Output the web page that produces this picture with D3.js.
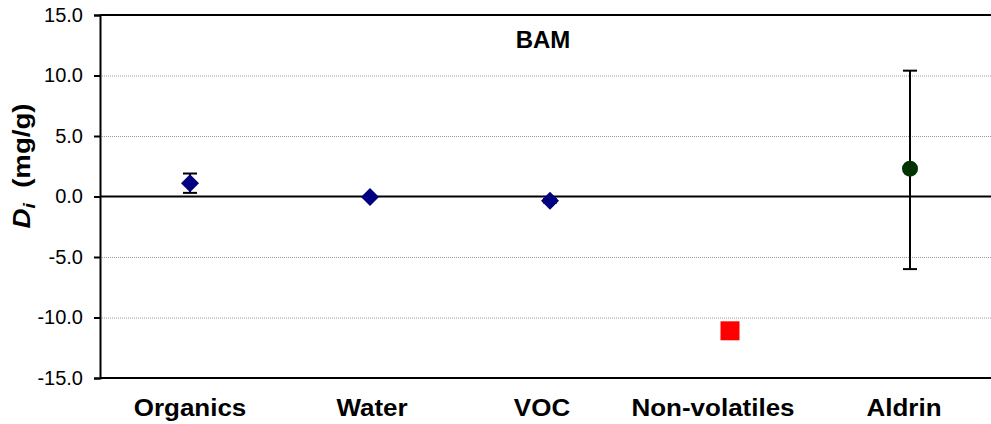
<!DOCTYPE html>
<html>
<head>
  <meta charset="utf-8">
  <script src="https://d3js.org/d3.v7.min.js"></script>
  <style>
    body { margin: 0; background: #fff; }
    text { font-family: "Liberation Sans", Arial, sans-serif; }
  </style>
</head>
<body>
<div id="chart"></div>
<script>
const width = 991;
const height = 424;

// data
const categories = ["Organics", "Water", "VOC", "Non-volatiles", "Aldrin"];
const values = [1.1, -0.05, -0.35, -11.1, 2.3];
const errLow = [0.3, null, -0.5, null, -6.0];
const errHigh = [1.9, null, -0.2, null, 10.4];
const markers = ["diamond", "diamond", "diamond", "square", "circle"];
const markerColors = ["#000080", "#000080", "#000080", "#ff0000", "#003300"];
const yTicks = [-15, -10, -5, 0, 5, 10, 15];

// the original's category labels sit a little off the markers
const labelShift = [0, 2, -8, -17, -6];

const margin = {top: 15, right: -9, bottom: 46, left: 100};

const svg = d3.select("#chart").append("svg")
  .attr("width", width)
  .attr("height", height);

const x = d3.scaleBand()
  .domain(categories)
  .range([margin.left, width - margin.right]);

const y = d3.scaleLinear()
  .domain([-15, 15])
  .range([height - margin.bottom, margin.top]);

// gridlines
svg.append("g")
  .selectAll("line")
  .data(yTicks.filter(d => d !== 0 && d !== -15 && d !== 15))
  .join("line")
  .attr("x1", margin.left).attr("x2", width)
  .attr("y1", d => y(d) + 0.5).attr("y2", d => y(d) + 0.5)
  .attr("stroke", "#999")
  .attr("stroke-dasharray", "1,1");

// frame top and bottom + zero line
[15, -15, 0].forEach(v => {
  svg.append("line")
    .attr("x1", margin.left).attr("x2", width)
    .attr("y1", y(v)).attr("y2", y(v))
    .attr("stroke", "#000").attr("stroke-width", 2);
});

// y axis
const yAxis = svg.append("g")
  .attr("transform", `translate(${margin.left},0)`)
  .call(d3.axisLeft(y).tickValues(yTicks).tickFormat(d => d.toFixed(1)).tickSize(6).tickPadding(11));
yAxis.select(".domain").attr("stroke-width", 2);
yAxis.selectAll(".tick line").attr("stroke-width", 2);
yAxis.selectAll("text")
  .attr("font-size", 20)
  .attr("fill", "#000")
  .style("font-family", "Liberation Sans, Arial, sans-serif");

// category labels (a bit wide, like the original)
svg.append("g")
  .selectAll("text")
  .data(categories)
  .join("text")
  .attr("transform", (d, i) => `translate(${x(d) + x.bandwidth() / 2 + labelShift[i]},416) scale(1.13,1)`)
  .attr("text-anchor", "middle")
  .attr("font-size", 23)
  .attr("font-weight", "bold")
  .text(d => d);

// y title
const yt = svg.append("text")
  .attr("transform", "translate(30,166) rotate(-90) scale(1.2,1)")
  .attr("text-anchor", "middle")
  .attr("font-size", 23)
  .attr("font-weight", "bold");
yt.append("tspan").attr("font-style", "italic").text("D");
yt.append("tspan").attr("font-style", "italic").attr("font-size", 16).attr("dy", 5).text("i");
yt.append("tspan").attr("dy", -5).text("\u00a0 (mg/g)");

// chart title
svg.append("text")
  .attr("x", 543).attr("y", 48)
  .attr("text-anchor", "middle")
  .attr("font-size", 24)
  .attr("font-weight", "bold")
  .text("BAM");

const rows = categories.map((c, i) => ({
  c, v: values[i], lo: errLow[i], hi: errHigh[i], m: markers[i], col: markerColors[i]
}));
const cx = d => x(d.c) + x.bandwidth() / 2;

// error bars
const eb = svg.append("g").selectAll("g")
  .data(rows.filter(d => d.lo !== null))
  .join("g")
  .attr("stroke", "#000").attr("stroke-width", 2);
eb.append("line")
  .attr("x1", cx).attr("x2", cx)
  .attr("y1", d => y(d.lo)).attr("y2", d => y(d.hi));
eb.append("line")
  .attr("x1", d => cx(d) - 7).attr("x2", d => cx(d) + 7)
  .attr("y1", d => y(d.lo)).attr("y2", d => y(d.lo));
eb.append("line")
  .attr("x1", d => cx(d) - 7).attr("x2", d => cx(d) + 7)
  .attr("y1", d => y(d.hi)).attr("y2", d => y(d.hi));

// markers
const symbolFor = {
  diamond: d3.symbol().type(d3.symbolSquare).size(162),
  square: d3.symbol().type(d3.symbolSquare).size(361),
  circle: d3.symbol().type(d3.symbolCircle).size(200)
};
svg.append("g").selectAll("path")
  .data(rows)
  .join("path")
  .attr("d", d => symbolFor[d.m]())
  .attr("transform", d => `translate(${cx(d)},${y(d.v)})` + (d.m === "diamond" ? " rotate(45)" : ""))
  .attr("fill", d => d.col);
</script>
</body>
</html>
